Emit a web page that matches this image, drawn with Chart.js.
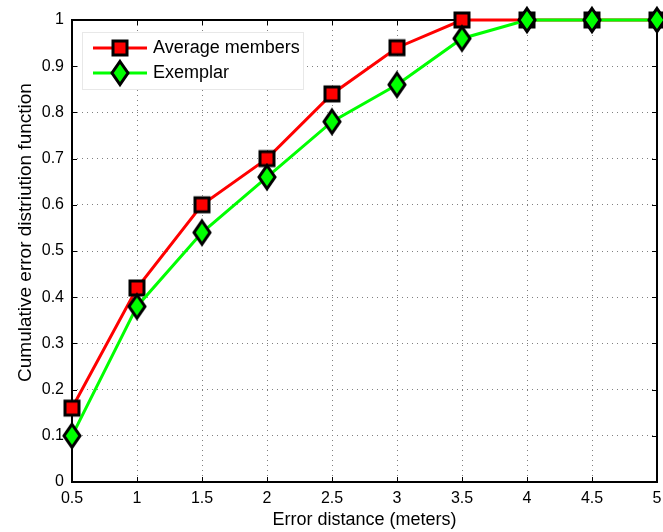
<!DOCTYPE html>
<html>
<head>
<meta charset="utf-8">
<script src="https://cdn.jsdelivr.net/npm/chart.js@4.4.0/dist/chart.umd.min.js"></script>
<style>
  html, body { margin: 0; padding: 0; overflow: hidden; background: #fff; }
  #wrap { width: 700px; height: 532px; }
</style>
</head>
<body>
<div id="wrap"><canvas id="cdf-canvas" width="700" height="532"></canvas></div>
<script>
// values
const distances = [0.5, 1, 1.5, 2, 2.5, 3, 3.5, 4, 4.5, 5];
const averageMembers = [0.16, 0.42, 0.60, 0.70, 0.84, 0.94, 1.0, 1.0, 1.0, 1.0];
const exemplar = [0.10, 0.38, 0.54, 0.66, 0.78, 0.86, 0.96, 1.0, 1.0, 1.0];
const xTickValues = [0.5, 1, 1.5, 2, 2.5, 3, 3.5, 4, 4.5, 5];
const yTickValues = [0, 0.1, 0.2, 0.3, 0.4, 0.5, 0.6, 0.7, 0.8, 0.9, 1];
const seriesNames = ['Average members', 'Exemplar'];

const FONT = "'Liberation Sans', Arial, sans-serif";

// leading spaces push the rotated title up a bit, like the original
function padTitle(title, spaceParam) {
    for (let i = 0; i < spaceParam; i++) {
        title = ' ' + title;
    }
    return title;
}

function makeSquare() {
    let c = document.createElement('canvas');
    c.width = 20; c.height = 20;
    let g = c.getContext('2d');
    g.fillStyle = '#ff0000';
    g.strokeStyle = '#000';
    g.lineWidth = 3;
    g.fillRect(3, 3, 14, 14);
    g.strokeRect(3, 3, 14, 14);
    return c;
}

function makeDiamond() {
    let c = document.createElement('canvas');
    c.width = 24; c.height = 32;
    let g = c.getContext('2d');
    g.beginPath();
    g.moveTo(12, 4.5);
    g.lineTo(20, 16);
    g.lineTo(12, 27.5);
    g.lineTo(4, 16);
    g.closePath();
    g.fillStyle = '#00ff00';
    g.fill();
    g.lineJoin = 'miter';
    g.lineWidth = 3;
    g.strokeStyle = '#000';
    g.stroke();
    return c;
}

let squareImg = makeSquare();
let diamondImg = makeDiamond();

function toPoints(xs, ys) {
    return xs.map((x, i) => ({x: x, y: ys[i]}));
}

// box, inward ticks
const framePlugin = {
    id: 'frame',
    beforeDatasetsDraw(chart) {
        const {ctx, chartArea: a, scales} = chart;
        ctx.save();
        ctx.strokeStyle = '#000';
        ctx.lineWidth = 1;
        ctx.beginPath();
        xTickValues.forEach(v => {
            let px = Math.round(scales.x.getPixelForValue(v)) + 0.5;
            ctx.moveTo(px, a.bottom); ctx.lineTo(px, a.bottom - 5);
            ctx.moveTo(px, a.top); ctx.lineTo(px, a.top + 5);
        });
        yTickValues.forEach(v => {
            let py = Math.round(scales.y.getPixelForValue(v)) + 0.5;
            ctx.moveTo(a.left, py); ctx.lineTo(a.left + 5, py);
            ctx.moveTo(a.right, py); ctx.lineTo(a.right - 5, py);
        });
        ctx.stroke();
        ctx.lineWidth = 2;
        ctx.strokeRect(a.left, a.top, a.right - a.left, a.bottom - a.top);
        ctx.restore();
    }
};

const legendPlugin = {
    id: 'boxLegend',
    afterDraw(chart) {
        const ctx = chart.ctx;
        ctx.save();
        ctx.fillStyle = '#fff';
        ctx.fillRect(82, 32, 221, 57);
        ctx.strokeStyle = '#e8e8e8';
        ctx.lineWidth = 1;
        ctx.strokeRect(82.5, 32.5, 221, 57);
        const rows = [
            {y: 48, color: '#ff0000', img: squareImg, text: seriesNames[0]},
            {y: 73, color: '#00ff00', img: diamondImg, text: seriesNames[1]}
        ];
        rows.forEach(r => {
            ctx.strokeStyle = r.color;
            ctx.lineWidth = 3;
            ctx.beginPath();
            ctx.moveTo(93, r.y);
            ctx.lineTo(147, r.y);
            ctx.stroke();
            ctx.drawImage(r.img, 120 - r.img.width / 2, r.y - r.img.height / 2);
            ctx.fillStyle = '#000';
            ctx.font = '18px ' + FONT;
            ctx.textBaseline = 'middle';
            ctx.fillText(r.text, 153, r.y);
        });
        ctx.restore();
    }
};

const ctx = document.getElementById('cdf-canvas').getContext('2d');
const cdfChart = new Chart(ctx, {
    type: 'line',
    data: {
        datasets: [
            {
                label: seriesNames[0],
                data: toPoints(distances, averageMembers),
                borderColor: '#ff0000',
                borderWidth: 3,
                pointStyle: squareImg,
                pointRadius: 10,
                fill: false,
                tension: 0,
                clip: false,
                order: 2
            },
            {
                label: seriesNames[1],
                data: toPoints(distances, exemplar),
                borderColor: '#00ff00',
                borderWidth: 3,
                pointStyle: diamondImg,
                pointRadius: 10,
                fill: false,
                tension: 0,
                clip: false,
                order: 1
            }
        ]
    },
    options: {
        responsive: false,
        animation: false,
        layout: { padding: { left: 0, right: 43, top: 20, bottom: 0 } },
        plugins: {
            legend: { display: false },
            tooltip: { enabled: false }
        },
        scales: {
            x: {
                type: 'linear',
                min: 0.5,
                max: 5,
                afterBuildTicks: s => { s.ticks = xTickValues.map(v => ({value: v})); },
                afterFit: s => { s.height = 50; },
                grid: { color: '#808080', lineWidth: 1, drawTicks: false },
                border: { display: false, dash: [1, 4] },
                ticks: {
                    color: '#000', padding: 7, maxRotation: 0,
                    font: { family: FONT, size: 16 },
                    callback: v => String(v)
                },
                title: {
                    display: true,
                    text: 'Error distance (meters)',
                    color: '#000',
                    font: { family: FONT, size: 18 },
                    padding: { top: 0, bottom: 1 }
                }
            },
            y: {
                min: 0,
                max: 1,
                afterBuildTicks: s => { s.ticks = yTickValues.map(v => ({value: v})); },
                afterFit: s => { s.width = 72; },
                grid: { color: '#808080', lineWidth: 1, drawTicks: false },
                border: { display: false, dash: [1, 4] },
                ticks: {
                    color: '#000', padding: 8,
                    font: { family: FONT, size: 16 },
                    callback: v => String(v)
                },
                title: {
                    display: true,
                    text: padTitle('Cumulative error distriution function', 7),
                    color: '#000',
                    font: { family: FONT, size: 19 },
                    padding: { top: 14, bottom: 0 }
                }
            }
        }
    },
    plugins: [framePlugin, legendPlugin]
});
</script>
</body>
</html>
